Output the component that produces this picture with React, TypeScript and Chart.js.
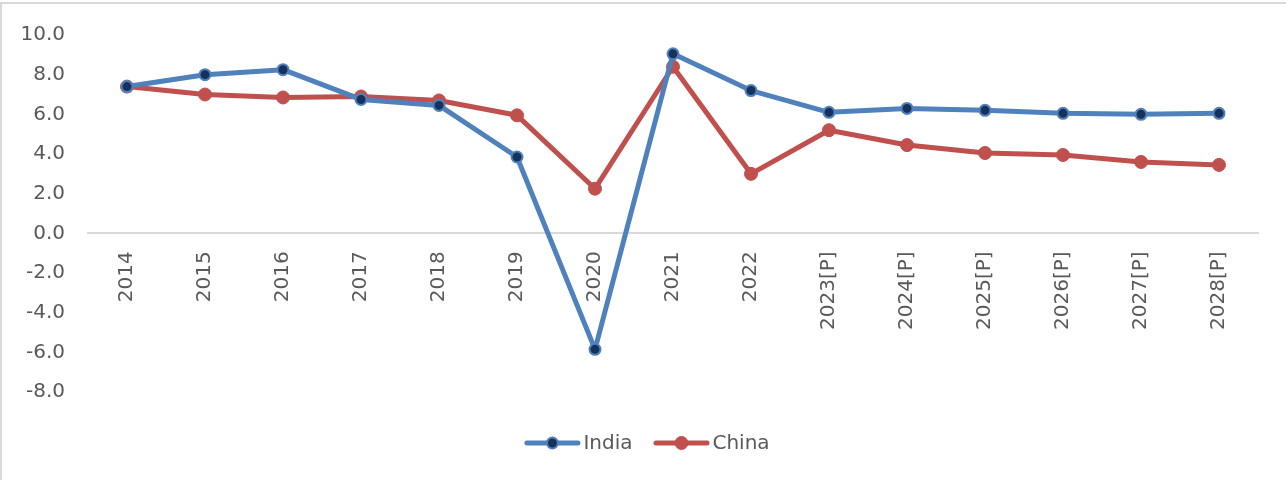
import React, { useEffect, useRef } from "react";
import { Chart, registerables } from "chart.js";

Chart.register(...registerables);

const categories = ["2014", "2015", "2016", "2017", "2018", "2019", "2020", "2021", "2022", "2023[P]", "2024[P]", "2025[P]", "2026[P]", "2027[P]", "2028[P]"];
const indiaValues = [7.4, 8.0, 8.25, 6.75, 6.45, 3.85, -5.85, 9.05, 7.2, 6.1, 6.3, 6.2, 6.05, 6.0, 6.05];
const chinaValues = [7.4, 7.0, 6.85, 6.9, 6.7, 5.95, 2.25, 8.4, 3.0, 5.2, 4.45, 4.05, 3.95, 3.6, 3.45];
const seriesNames = ["India", "China"];
const yMin = -8;
const yMax = 10;
const yStep = 2;

const FONT = '"DejaVu Sans", Verdana, sans-serif';
const TEXT = "#595959";

const legendPlugin = {
  id: "lineMarkerLegend",
  afterDraw(chart: any) {
    const ctx = chart.ctx as CanvasRenderingContext2D;
    ctx.save();
    ctx.font = `20px ${FONT}`;
    ctx.textBaseline = "middle";
    const lineLen = 56;
    const gapText = 3;
    const gapItem = 21;
    const items = chart.data.datasets.map((ds: any) => ({
      label: ds.label as string,
      line: ds.borderColor as string,
      fill: ds.pointBackgroundColor as string,
      stroke: ds.pointBorderColor as string,
      r: ds.pointRadius as number,
      bw: ds.pointBorderWidth as number,
      tw: ctx.measureText(ds.label).width,
    }));
    let total = 0;
    items.forEach((it: any, i: number) => {
      total += lineLen + gapText + it.tw + (i < items.length - 1 ? gapItem : 0);
    });
    let x = 647 - total / 2;
    const y = chart.height - 37;
    items.forEach((it: any) => {
      ctx.strokeStyle = it.line;
      ctx.lineWidth = 5;
      ctx.lineCap = "round";
      ctx.beginPath();
      ctx.moveTo(x + 2.5, y);
      ctx.lineTo(x + lineLen - 2.5, y);
      ctx.stroke();
      ctx.beginPath();
      ctx.arc(x + lineLen / 2, y, it.r, 0, Math.PI * 2);
      ctx.fillStyle = it.fill;
      ctx.fill();
      ctx.lineWidth = it.bw;
      ctx.strokeStyle = it.stroke;
      ctx.stroke();
      ctx.fillStyle = TEXT;
      ctx.textAlign = "left";
      ctx.fillText(it.label, x + lineLen + gapText, y + 1);
      x += lineLen + gapText + it.tw + gapItem;
    });
    ctx.restore();
  },
};

export default function App() {
  const ref = useRef<HTMLCanvasElement | null>(null);

  useEffect(() => {
    if (!ref.current) return;
    const chart = new Chart(ref.current, {
      type: "line",
      data: {
        labels: categories,
        datasets: [
          {
            label: seriesNames[0],
            data: indiaValues,
            borderColor: "#4f81bd",
            borderWidth: 5,
            borderJoinStyle: "round",
            pointRadius: 5.5,
            pointBackgroundColor: "#16325a",
            pointBorderColor: "#4f81bd",
            pointBorderWidth: 2,
            tension: 0,
          },
          {
            label: seriesNames[1],
            data: chinaValues,
            borderColor: "#c0504d",
            borderWidth: 5,
            borderJoinStyle: "round",
            pointRadius: 6.5,
            pointBackgroundColor: "#c0504d",
            pointBorderColor: "#c0504d",
            pointBorderWidth: 1,
            tension: 0,
          },
        ],
      },
      options: {
        animation: false,
        responsive: false,
        maintainAspectRatio: false,
        layout: { padding: { left: 0, right: 28, top: 32, bottom: 88 } },
        plugins: {
          legend: { display: false },
          tooltip: { enabled: false },
        },
        scales: {
          x: {
            type: "category",
            offset: true,
            position: { y: 0 } as any,
            grid: { display: false, drawTicks: false, offset: true },
            border: { display: true, color: "#d9d9d9", width: 2 },
            ticks: {
              autoSkip: false,
              minRotation: 90,
              maxRotation: 90,
              padding: 18,
              color: TEXT,
              font: { family: FONT, size: 20 },
            },
          },
          y: {
            min: yMin,
            max: yMax,
            grid: { display: false, drawTicks: false },
            border: { display: false },
            afterFit: (scale: any) => {
              scale.width = 88;
            },
            ticks: {
              stepSize: yStep,
              padding: 23,
              color: TEXT,
              font: { family: FONT, size: 20 },
              callback: (v: any) => Number(v).toFixed(1),
            },
          },
        },
      },
      plugins: [legendPlugin],
    });
    return () => chart.destroy();
  }, []);

  return (
    <div style={{ position: "absolute", left: 0, top: 0, width: 1286, height: 480, background: "#fff", overflow: "hidden" }}>
      <div
        style={{
          position: "absolute",
          left: 0,
          top: 2,
          width: 1400,
          height: 600,
          borderTop: "2px solid #d9d9d9",
          borderLeft: "2px solid #d9d9d9",
          boxSizing: "border-box",
        }}
      />
      <canvas ref={ref} width={1286} height={480} style={{ position: "absolute", left: 0, top: 0, width: 1286, height: 480 }} />
    </div>
  );
}
